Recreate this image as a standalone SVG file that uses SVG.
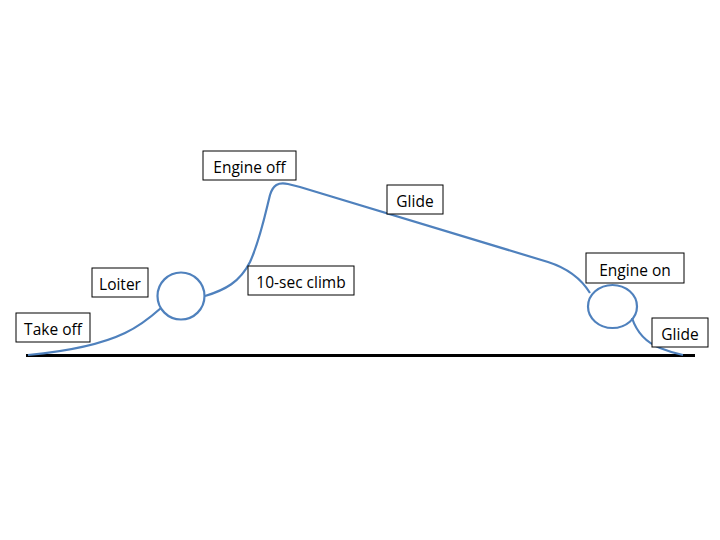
<svg xmlns="http://www.w3.org/2000/svg" width="720" height="540" viewBox="0 0 720 540">
<style>
.box rect{fill:#fff;stroke:#000;stroke-width:1}
.box text{font-family:"Open Sans","Liberation Sans",sans-serif;font-size:15.5px;fill:#000;text-anchor:middle}
.path{fill:none;stroke:#4f81bd;stroke-width:2.2}
</style>
<rect width="720" height="540" fill="#fff"/>
<g id="connectors">
<line x1="26" y1="355.5" x2="695" y2="355.5" stroke="#000" stroke-width="3.2"/>
<path class="path" d="M28,355 C60,352 100,345 125,333 C140,326 152,316 161,308"/>
<path class="path" d="M205,296 C225,290 240,282 250,262 C260,240 265,215 270,195 C273,185 278,182 288,184 L300,187 L548,262 C570,269 582,280 590,293"/>
<path class="path" d="M632,318 C636,330 645,342 660,348 C670,352 678,354 683,355"/>
</g>
<g id="loiter-circle"><ellipse class="path" cx="181" cy="296" rx="23.5" ry="23.5"/></g>
<g id="engine-on-circle"><ellipse class="path" cx="612.5" cy="306.5" rx="24.5" ry="21.5"/></g>
<g id="take-off" class="box"><rect x="16" y="313" width="74" height="29"/><text x="53" y="335">Take off</text></g>
<g id="loiter" class="box"><rect x="92" y="268" width="56" height="29"/><text x="120" y="290">Loiter</text></g>
<g id="engine-off" class="box"><rect x="203" y="151" width="93" height="29"/><text x="249.5" y="173">Engine off</text></g>
<g id="climb" class="box"><rect x="248" y="266" width="106" height="29"/><text x="301" y="288">10-sec climb</text></g>
<g id="glide-1" class="box"><rect x="387" y="185" width="56" height="29"/><text x="415" y="207">Glide</text></g>
<g id="engine-on" class="box"><rect x="586" y="253" width="98" height="30"/><text x="635" y="276">Engine on</text></g>
<g id="glide-2" class="box"><rect x="652" y="318" width="56" height="29"/><text x="680" y="340">Glide</text></g>
</svg>
